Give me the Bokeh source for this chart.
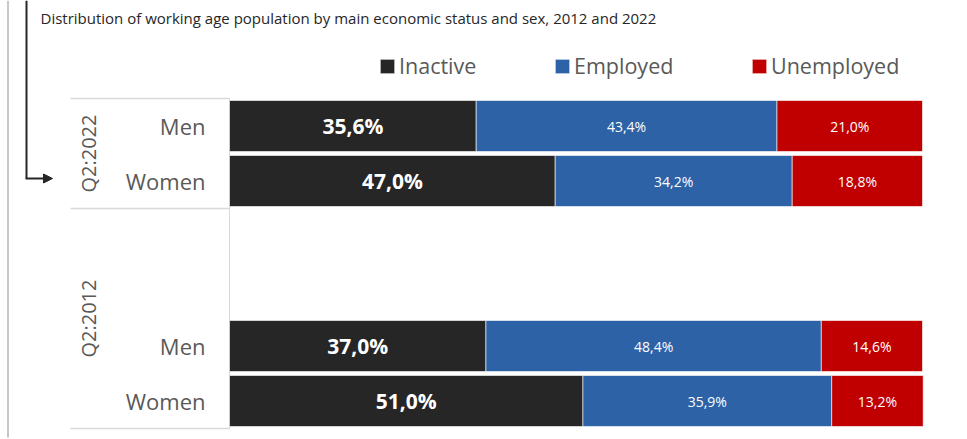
import math
from bokeh.plotting import figure
from bokeh.models import Range1d, ColumnDataSource, Label, Legend, LegendItem, Arrow, NormalHead
from bokeh.core.properties import value
from bokeh.embed import file_html
from bokeh.resources import INLINE

# ---------------- data ----------------
title_text = "Distribution of working age population by main economic status and sex, 2012 and 2022"
periods = ["Q2:2022", "Q2:2022", "Q2:2012", "Q2:2012"]
sexes = ["Men", "Women", "Men", "Women"]
series_names = ["Inactive", "Employed", "Unemployed"]
inactive = [35.6, 47.0, 37.0, 51.0]
employed = [43.4, 34.2, 48.4, 35.9]
unemployed = [21.0, 18.8, 14.6, 13.2]

# ---------------- layout / style ----------------
FONT = "Open Sans"
colors = ["#262626", "#2E62A6", "#C00000"]
W, H = 967, 439
X0_PX, X100_PX = 229, 922
PX = (X100_PX - X0_PX) / 100.0
ROW_PX = 55.0
ROW0_PX = 125.5


def xd(px):
    return (px - X0_PX) / PX


def yd(py):
    return (py - ROW0_PX) / ROW_PX


group_order = ["Q2:2022", "Q2:2012"]
lead_blank = {"Q2:2022": 0, "Q2:2012": 2}
row_of = [0] * len(periods)
group_span = {}
r = 0
for g in group_order:
    start = r
    r += lead_blank[g]
    for i, pg in enumerate(periods):
        if pg == g:
            row_of[i] = r
            r += 1
    group_span[g] = (start - 0.5, r - 0.5)

p = figure(width=W, height=H, x_range=Range1d(xd(0), xd(W)), y_range=Range1d(yd(H), yd(0)),
           output_backend="svg", toolbar_location=None, min_border=0,
           x_axis_type=None, y_axis_type=None, outline_line_color=None)
p.grid.visible = False
p.background_fill_color = "white"
p.border_fill_color = "white"

src = ColumnDataSource(dict(y=row_of, sex=sexes, Inactive=inactive, Employed=employed, Unemployed=unemployed))

# category separators
bounds = sorted(set([b for g in group_order for b in group_span[g]]))
p.segment(x0=[xd(70)] * len(bounds), x1=[0] * len(bounds), y0=bounds, y1=bounds,
          line_color="#d9d9d9", line_width=1.5)
p.segment(x0=[0], x1=[0], y0=[min(bounds)], y1=[max(bounds)], line_color="#d9d9d9", line_width=1)

rends = p.hbar_stack(series_names, y="y", height=51 / ROW_PX, color=colors, source=src,
                     line_color="white", line_width=0.6)

# value labels
vals = [inactive, employed, unemployed]
left = [0.0] * len(periods)
for k, series in enumerate(vals):
    xs, ys, txt = [], [], []
    for i, v in enumerate(series):
        xs.append(left[i] + v / 2.0)
        ys.append(row_of[i])
        txt.append(("%.1f%%" % v).replace(".", ","))
        left[i] += v
    s = ColumnDataSource(dict(x=xs, y=ys, t=txt))
    if k == 0:
        p.text(x="x", y="y", text="t", source=s, text_align="center", text_baseline="middle",
               text_font=value(FONT), text_font_size="21px", text_font_style="bold", text_color="white")
    else:
        p.text(x="x", y="y", text="t", source=s, text_align="center", text_baseline="middle",
               text_font=value(FONT), text_font_size="14px", text_color="white")

# sex labels
p.text(x=[0] * len(sexes), y=row_of, text=sexes, x_offset=-24, text_align="right", text_baseline="middle",
       text_font=value(FONT), text_font_size="22px", text_color="#595959")

# period labels (vertical)
gy = [(group_span[g][0] + group_span[g][1]) / 2.0 for g in group_order]
p.text(x=[0] * len(group_order), y=gy, text=group_order, x_offset=-141, angle=math.pi / 2,
       text_align="center", text_baseline="middle",
       text_font=value(FONT), text_font_size="20px", text_color="#595959")

# decorative frame lines
p.segment(x0=[xd(7.5)], x1=[xd(7.5)], y0=[yd(0)], y1=[yd(437)], line_color="#c8c8c8", line_width=2)
p.line(x=[xd(26), xd(26)], y=[yd(0), yd(178)], line_color="#262626", line_width=2)
p.add_layout(Arrow(end=NormalHead(size=9, fill_color="#262626", line_color="#262626"),
                   x_start=xd(25), y_start=yd(178), x_end=xd(52), y_end=yd(178),
                   line_color="#262626", line_width=2))

p.add_layout(Label(x=xd(40), y=yd(17), text=title_text, text_baseline="middle",
                   text_font=FONT, text_font_size="15px", text_color="#262626"))

# legends
leg_x = [378, 553, 750]
for k, name in enumerate(series_names):
    leg = Legend(items=[LegendItem(label=name, renderers=[rends[k]])], location=(leg_x[k], 359),
                 orientation="horizontal", padding=0, margin=0, border_line_color=None,
                 background_fill_alpha=0, glyph_width=18, glyph_height=18, label_standoff=3,
                 label_text_font=FONT, label_text_font_size="21.5px", label_text_color="#595959",
                 label_text_baseline="middle")
    p.add_layout(leg)

open("out.html", "w").write(file_html(p, INLINE))
